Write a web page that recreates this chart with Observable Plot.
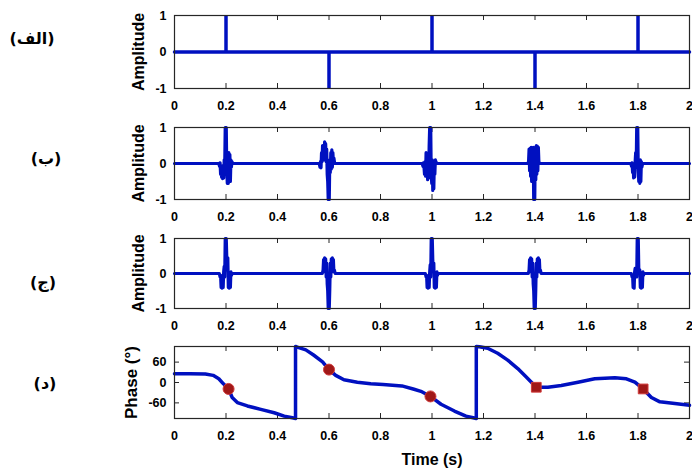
<!DOCTYPE html>
<html><head><meta charset="utf-8">
<script src="https://cdn.jsdelivr.net/npm/d3@7"></script>
<script src="https://cdn.jsdelivr.net/npm/@observablehq/plot@0.6"></script>
<style>
body{margin:0;background:#fff;}
#wrap{position:relative;width:692px;height:469px;overflow:hidden;background:#fff;}
#wrap svg{position:absolute;left:0;}
.tag{position:absolute;font-family:"DejaVu Sans",sans-serif;font-weight:bold;font-size:16px;direction:rtl;transform:translate(-50%,-50%);white-space:nowrap;color:#000;}
</style></head><body><div id="wrap"></div>
<script>
// ---------- data ----------
const xTicks = [0, 0.2, 0.4, 0.6, 0.8, 1, 1.2, 1.4, 1.6, 1.8, 2];
const ampTicks = [-1, 0, 1];
const phaseTicks = [-60, 0, 60];
const panelTags = ["(الف)", "(ب)", "(ج)", "(د)"];
const yLabels = ["Amplitude", "Amplitude", "Amplitude", "Phase (°)"];
const xLabel = "Time (s)";

// panel (a): impulse train
const pulseTimes = [0.2, 0.6, 1.0, 1.4, 1.8];
const pulseAmps = [1, -1, 1, -1, 1];
const baselineA = [[0, 0], [2, 0]];

// panel (b): filtered bursts [time, amplitude]
const signalB = [
  [0, 0], [0.172, 0], [0.175, -0.08], [0.177, 0.02], [0.179, -0.3], [0.181, -0.1], [0.183, -0.38], [0.185, -0.15], [0.187, -0.42],
  [0.189, -0.05], [0.191, -0.4], [0.193, 0.1], [0.195, -0.1], [0.197, 1], [0.199, 0.3], [0.201, 1], [0.203, -0.2], [0.205, -0.55],
  [0.207, 0.1], [0.209, -0.55], [0.211, 0.3], [0.213, -0.5], [0.215, 0.25], [0.217, -0.5], [0.219, 0.1], [0.221, -0.1], [0.223, 0.05], [0.226, 0],
  [0.562, 0], [0.565, -0.1], [0.567, 0.05], [0.569, -0.12], [0.571, 0.3], [0.573, 0.05], [0.575, 0.5], [0.577, 0.1], [0.579, 0.45],
  [0.581, 0.1], [0.583, 0.6], [0.585, 0.2], [0.587, 0.55], [0.589, 0.05], [0.591, 0.4], [0.593, -0.3], [0.595, -0.5], [0.597, -1],
  [0.599, -0.3], [0.601, -1], [0.603, 0.1], [0.605, -0.25], [0.607, 0.3], [0.609, -0.15], [0.611, 0.38], [0.613, -0.1], [0.615, 0.3],
  [0.617, 0.05], [0.619, 0.15], [0.622, 0],
  [0.962, 0], [0.965, -0.08], [0.967, 0.02], [0.969, -0.1], [0.971, -0.3], [0.973, 0.05], [0.975, -0.35], [0.977, 0.3], [0.979, -0.3],
  [0.981, 0.1], [0.983, -0.45], [0.985, 0.2], [0.987, -0.4], [0.989, 0.5], [0.991, 1], [0.993, 0.2], [0.995, 1], [0.997, -0.3],
  [0.999, -0.55], [1.001, 0.1], [1.003, -0.75], [1.005, -0.2], [1.007, -0.7], [1.009, 0.05], [1.011, -0.3], [1.013, 0.1], [1.015, 0.05], [1.018, 0],
  [1.372, 0], [1.375, 0.05], [1.377, 0.4], [1.379, -0.2], [1.381, 0.42], [1.383, -0.35], [1.385, 0.45], [1.387, -0.5], [1.389, 0.4],
  [1.391, -0.4], [1.393, 0.45], [1.395, -1], [1.397, 0.3], [1.399, -1], [1.401, 0.45], [1.403, -0.45], [1.405, 0.5], [1.407, -0.3],
  [1.409, 0.48], [1.411, -0.2], [1.413, 0.45], [1.415, 0.05], [1.418, 0],
  [1.772, 0], [1.775, -0.08], [1.777, 0.02], [1.779, -0.25], [1.781, -0.05], [1.783, -0.4], [1.785, -0.1], [1.787, -0.38], [1.789, 0.05],
  [1.791, 0.3], [1.793, -0.1], [1.795, 1], [1.797, 0.3], [1.799, 1], [1.801, -0.2], [1.803, -0.5], [1.805, 0.05], [1.807, -0.55],
  [1.809, 0.1], [1.811, -0.5], [1.813, 0.05], [1.815, -0.1], [1.818, 0], [2, 0]
];

// panel (c): filtered bursts [time, amplitude]
const signalC = [
  [0, 0], [0.174, 0], [0.177, -0.1], [0.179, -0.05], [0.181, -0.4], [0.183, -0.1], [0.185, -0.42], [0.187, -0.05], [0.189, -0.4],
  [0.191, 0.05], [0.193, 0.2], [0.195, -0.1], [0.197, 1], [0.199, 0.2], [0.201, 1], [0.203, 0.45], [0.205, 0.1], [0.207, 0.45],
  [0.209, -0.4], [0.211, -0.05], [0.213, -0.42], [0.215, -0.1], [0.217, -0.4], [0.219, 0.05], [0.221, -0.05], [0.224, 0],
  [0.574, 0], [0.577, 0.1], [0.579, 0.4], [0.581, 0.05], [0.583, 0.45], [0.585, 0.1], [0.587, 0.42], [0.589, -0.1], [0.591, 0.3],
  [0.593, -0.3], [0.595, -0.5], [0.597, -1], [0.599, -0.3], [0.601, -1], [0.603, -0.45], [0.605, 0.3], [0.607, -0.1], [0.609, 0.42],
  [0.611, 0.05], [0.613, 0.45], [0.615, 0.1], [0.617, 0.4], [0.619, 0.05], [0.621, 0.1], [0.624, 0],
  [0.974, 0], [0.977, -0.1], [0.979, -0.05], [0.981, -0.4], [0.983, -0.1], [0.985, -0.42], [0.987, -0.05], [0.989, -0.4],
  [0.991, 0.05], [0.993, 0.25], [0.995, -0.1], [0.997, 1], [0.999, 0.2], [1.001, 1], [1.003, 0.4], [1.005, 0.05], [1.007, 0.3],
  [1.009, -0.4], [1.011, -0.05], [1.013, -0.42], [1.015, -0.1], [1.017, -0.4], [1.019, 0.05], [1.021, -0.05], [1.024, 0],
  [1.374, 0], [1.377, 0.1], [1.379, 0.4], [1.381, 0.05], [1.383, 0.45], [1.385, 0.1], [1.387, 0.42], [1.389, -0.1], [1.391, 0.3],
  [1.393, -0.3], [1.395, -0.5], [1.397, -1], [1.399, -0.3], [1.401, -1], [1.403, -0.45], [1.405, 0.3], [1.407, -0.1], [1.409, 0.42],
  [1.411, 0.05], [1.413, 0.45], [1.415, 0.1], [1.417, 0.4], [1.419, 0.05], [1.421, 0.1], [1.424, 0],
  [1.774, 0], [1.777, -0.1], [1.779, -0.05], [1.781, -0.4], [1.783, -0.1], [1.785, -0.42], [1.787, 0.05], [1.789, 0.15],
  [1.791, 0.05], [1.793, 0.15], [1.795, -0.1], [1.797, 1], [1.799, 0.2], [1.801, 1], [1.803, 0.15], [1.805, 0.05], [1.807, 0.1],
  [1.809, -0.4], [1.811, -0.05], [1.813, -0.42], [1.815, -0.1], [1.817, -0.4], [1.819, 0.05], [1.821, -0.05], [1.824, 0], [2, 0]
];

// panel (d): phase
const phaseT = [0, 0.06, 0.12, 0.15, 0.172, 0.19, 0.21, 0.224, 0.244, 0.283, 0.335, 0.387, 0.426, 0.458, 0.47, 0.47,
  0.477, 0.51, 0.54, 0.575, 0.6, 0.626, 0.658, 0.71, 0.762, 0.81, 0.883, 0.927, 0.957, 0.994, 1.035, 1.087, 1.132, 1.16, 1.172, 1.172,
  1.184, 1.216, 1.255, 1.294, 1.333, 1.366, 1.405, 1.45, 1.502, 1.567, 1.632, 1.71, 1.755, 1.788, 1.82, 1.852, 1.885, 1.943, 2.0];
const phaseV = [26, 26, 25, 21, 11, -4, -19, -44, -59, -69, -79, -89, -99, -104, -106, 106,
  104, 96, 81, 61, 38, 21, 8, 1, -4, -6, -10, -19, -26, -41, -64, -84, -99, -104, -106, 106,
  105, 101, 86, 66, 41, 16, -14, -14, -9, 1, 11, 14, 11, 1, -19, -44, -57, -62, -67];
const markerT = [0.21, 0.6, 0.994, 1.405, 1.82];
const markerV = [-19, 38, -41, -14, -19];
const markerShape = ["circle", "circle", "circle", "square", "square"];

// ---------- drawing ----------
const BLUE = "#0010c0";
const W = 692, ML = 174, MR = 3, TL = 5;
const fmtX = d => String(+d.toFixed(1));
const wrap = document.getElementById("wrap");

function panel({top, height, mt, mb, yDomain, yTicks, yLabel, labelOff, labelSize, marks, withXLabel}) {
  const innerH = height - mt - mb, innerW = W - ML - MR;
  const all = [
    Plot.ruleX(xTicks, {x: d => d, insetTop: innerH - TL, stroke: "#262626", strokeWidth: 1}),
    Plot.ruleX(xTicks, {x: d => d, insetBottom: innerH - TL, stroke: "#262626", strokeWidth: 1}),
    Plot.ruleY(yTicks, {y: d => d, insetRight: innerW - TL, stroke: "#262626", strokeWidth: 1}),
    Plot.ruleY(yTicks, {y: d => d, insetLeft: innerW - TL, stroke: "#262626", strokeWidth: 1}),
    ...marks,
    Plot.frame({stroke: "#262626", strokeWidth: 1.2}),
    Plot.axisX({ticks: xTicks, tickSize: 0, tickPadding: 13, tickFormat: fmtX, label: null, fill: "#000"}),
    Plot.axisY({ticks: yTicks, tickSize: 0, tickPadding: 8, tickFormat: d => String(d), label: null, fill: "#000"}),
    Plot.text([yLabel], {text: d => d, frameAnchor: "left", textAnchor: "middle", lineAnchor: "middle", rotate: -90, dx: -labelOff, fontSize: labelSize, fontWeight: "bold", fill: "#000"})
  ];
  if (withXLabel) all.push(Plot.text([xLabel], {text: d => d, frameAnchor: "bottom", lineAnchor: "middle", dy: 41, fontSize: 16, fontWeight: "bold", fill: "#000"}));
  const svg = Plot.plot({
    width: W, height, marginLeft: ML, marginRight: MR, marginTop: mt, marginBottom: mb,
    style: {fontFamily: "'Liberation Sans', Arial, sans-serif", fontSize: "12.5px", fontWeight: "bold", color: "#000", background: "transparent", overflow: "visible"},
    x: {domain: [0, 2]},
    y: {domain: yDomain},
    marks: all
  });
  svg.style.top = top + "px";
  wrap.appendChild(svg);
}

const pulses = pulseTimes.map((t, i) => ({t, a: pulseAmps[i]}));
panel({top: 0, height: 112, mt: 15, mb: 24, yDomain: [-1, 1], yTicks: ampTicks, yLabel: yLabels[0], labelOff: 36, labelSize: 16, marks: [
  Plot.line(baselineA, {x: d => d[0], y: d => d[1], stroke: BLUE, strokeWidth: 3.5}),
  Plot.ruleX(pulses, {x: "t", y1: 0, y2: "a", stroke: BLUE, strokeWidth: 3.5})
]});
panel({top: 112, height: 112, mt: 15, mb: 25, yDomain: [-1, 1], yTicks: ampTicks, yLabel: yLabels[1], labelOff: 36, labelSize: 16, marks: [
  Plot.line(signalB, {x: d => d[0], y: d => d[1], stroke: BLUE, strokeWidth: 3.2})
]});
panel({top: 224, height: 110, mt: 14, mb: 26, yDomain: [-1, 1], yTicks: ampTicks, yLabel: yLabels[2], labelOff: 36, labelSize: 16, marks: [
  Plot.line(signalC, {x: d => d[0], y: d => d[1], stroke: BLUE, strokeWidth: 3.2})
]});
const phase = phaseT.map((t, i) => ({t, v: phaseV[i]}));
const markers = markerT.map((t, i) => ({t, v: markerV[i], s: markerShape[i]}));
panel({top: 334, height: 135, mt: 12, mb: 51, yDomain: [-106, 106], yTicks: phaseTicks, yLabel: yLabels[3], labelOff: 43, labelSize: 17, withXLabel: true, marks: [
  Plot.line(phase, {x: "t", y: "v", stroke: BLUE, strokeWidth: 3.5}),
  Plot.dot(markers, {x: "t", y: "v", symbol: "s", r: 5.5, fill: "#a01818", stroke: "#d03a3a", strokeWidth: 1})
]});

const tagPos = [[32, 38], [46, 158], [43, 282], [45, 383]];
panelTags.forEach((txt, i) => {
  const d = document.createElement("div");
  d.className = "tag";
  d.textContent = txt;
  d.style.left = tagPos[i][0] + "px";
  d.style.top = tagPos[i][1] + "px";
  wrap.appendChild(d);
});
</script></body></html>
